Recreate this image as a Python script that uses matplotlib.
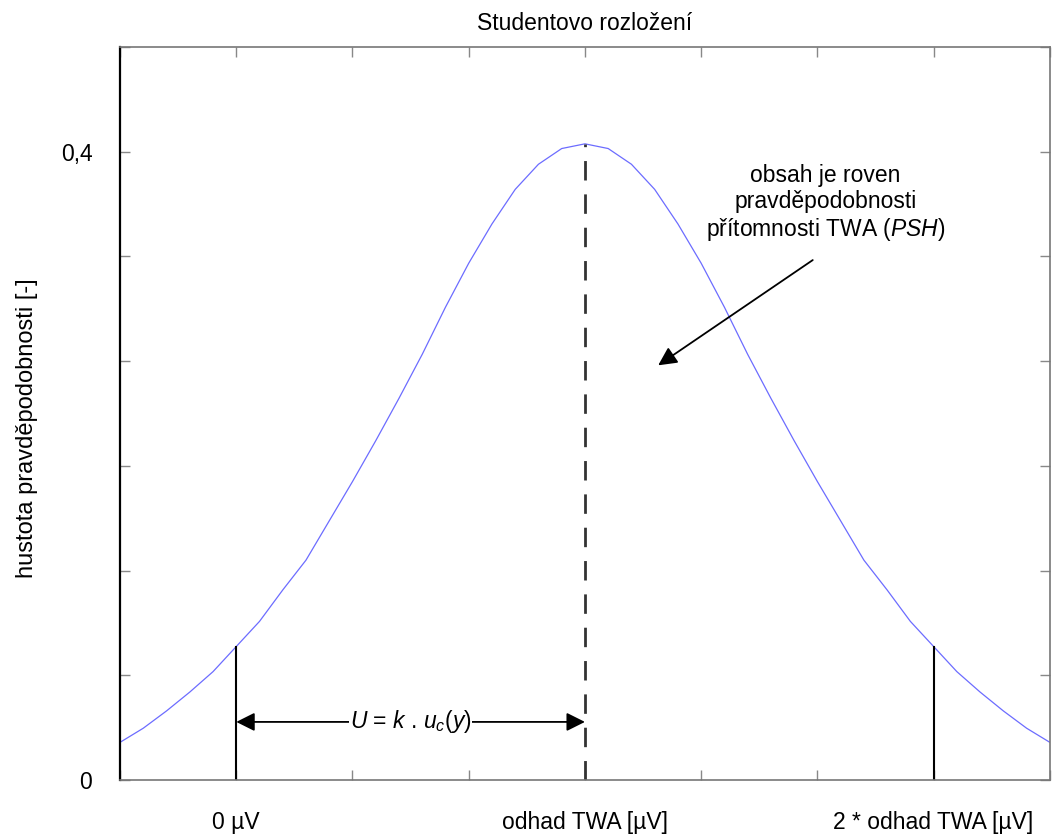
import numpy as np
import matplotlib
matplotlib.use('Agg')
import matplotlib.pyplot as plt

plt.rcParams['font.family'] = ['Liberation Sans', 'DejaVu Sans']
plt.rcParams['mathtext.fontset'] = 'custom'
plt.rcParams['mathtext.it'] = 'Liberation Sans:italic'
plt.rcParams['mathtext.rm'] = 'Liberation Sans'

# hodnoty (x v násobcích u_c, hustota)
x_vals = [-4.0, -3.8, -3.6, -3.4, -3.2, -3.0, -2.8, -2.6, -2.4, -2.2, -2.0,
          -1.8, -1.6, -1.4, -1.2, -1.0, -0.8, -0.6, -0.4, -0.2, 0.0,
          0.2, 0.4, 0.6, 0.8, 1.0, 1.2, 1.4, 1.6, 1.8, 2.0,
          2.2, 2.4, 2.6, 2.8, 3.0, 3.2, 3.4, 3.6, 3.8, 4.0]
hustota = [0.024, 0.033, 0.044, 0.056, 0.069, 0.085, 0.101, 0.121, 0.140, 0.165, 0.190,
           0.216, 0.243, 0.271, 0.301, 0.329, 0.354, 0.376, 0.392, 0.402, 0.405,
           0.402, 0.392, 0.376, 0.354, 0.329, 0.301, 0.271, 0.243, 0.216, 0.190,
           0.165, 0.140, 0.121, 0.101, 0.085, 0.069, 0.056, 0.044, 0.033, 0.024]

x_ticks = [-4, -3, -2, -1, 0, 1, 2, 3, 4]
x_labels = ['', '0 µV', '', '', 'odhad TWA [µV]', '', '', '2 * odhad TWA [µV]', '']
y_ticks = [0, 0.4 / 6, 0.8 / 6, 1.2 / 6, 1.6 / 6, 2.0 / 6, 0.4, 2.8 / 6]
y_labels = ['0', '', '', '', '', '', '0,4', '']

x_mez = [-3, 3]      # hranice 0 µV a 2 * odhad
u_y = 0.037          # výška šipky U

fig = plt.figure(figsize=(10.53, 8.34), dpi=100)
ax = fig.add_axes([0.114, 0.0647, 0.883, 0.879])

ax.plot(x_vals, hustota, color='#6c6cff', lw=0.9)

# svislé čáry
i0 = x_vals.index(0.0)
ax.plot([0, 0], [0, hustota[i0]], color='#333333', lw=2, dashes=(7, 5))
for xm in x_mez:
    ax.plot([xm, xm], [0, hustota[x_vals.index(float(xm))]], color='black', lw=1.5)

# šipka U = k . uc(y)
for xe in [-3, 0]:
    ax.annotate('', xy=(xe, u_y), xytext=(-1.5, u_y),
                arrowprops=dict(arrowstyle='-|>', color='black', lw=1.3,
                                mutation_scale=28, shrinkA=0, shrinkB=0))
ax.text(-1.5, u_y, r'$U$ = $k$ . $u_c(y)$', ha='center', va='center', fontsize=16.5,
        bbox=dict(facecolor='white', edgecolor='none', pad=0.5))

ax.text(2.07, 0.342, 'obsah je roven\npravděpodobnosti\npřítomnosti TWA ($PSH$)',
        ha='center', va='bottom', fontsize=16.5, linespacing=1.15)
ax.annotate('', xy=(0.63, 0.264), xytext=(1.96, 0.331),
            arrowprops=dict(arrowstyle='-|>', color='black', lw=1.3,
                            mutation_scale=28, shrinkA=0, shrinkB=0))

ax.set_xlim(-4, 4)
ax.set_ylim(0, 2.8 / 6)
ax.set_xticks(x_ticks)
ax.set_xticklabels(x_labels)
ax.set_yticks(y_ticks)
ax.set_yticklabels(y_labels)
ax.tick_params(direction='in', length=7, width=1, color='#888888', labelsize=16.5,
               top=True, right=True)
ax.tick_params(axis='x', pad=22)
ax.tick_params(axis='y', pad=20)
for s in ['top', 'right', 'bottom']:
    ax.spines[s].set_color('#777777')
    ax.spines[s].set_linewidth(1.2)
ax.spines['left'].set_color('black')
ax.spines['left'].set_linewidth(1.6)

ax.set_ylabel('hustota pravděpodobnosti [-]', fontsize=17)
ax.yaxis.set_label_coords(-0.088, 0.48)
ax.set_title('Studentovo rozložení', fontsize=16.5, pad=12)

fig.savefig('out.png', dpi=100)
